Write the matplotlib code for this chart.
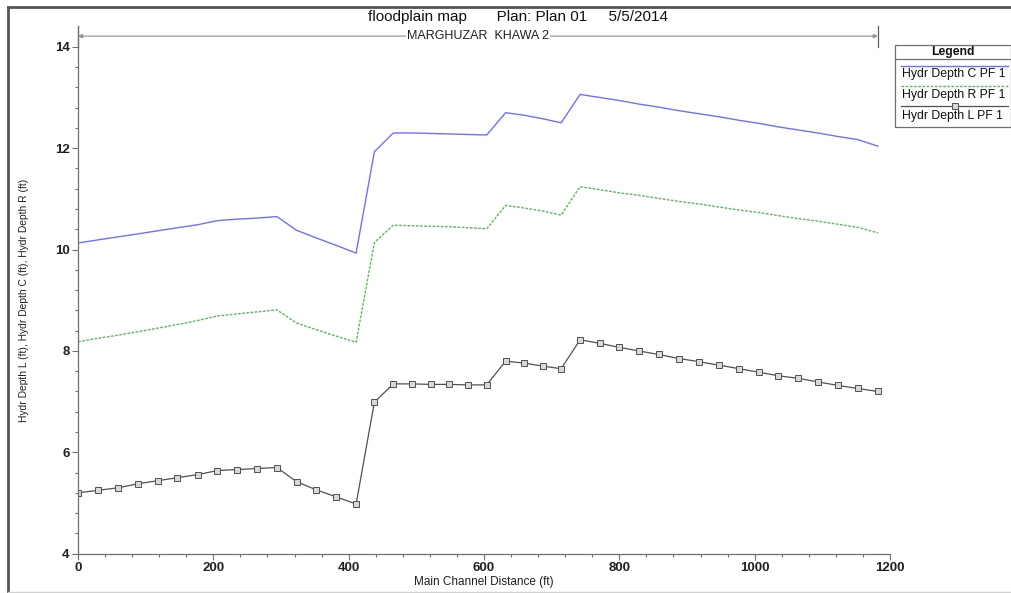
import matplotlib
matplotlib.use("Agg")
import matplotlib.pyplot as plt
from matplotlib.lines import Line2D
from matplotlib.patches import Rectangle

# ---- data ----
stations = [0, 29.5, 59, 89, 118, 147, 177, 206, 235, 264, 294, 323, 352, 382, 411,
            438, 466, 494, 521, 549, 577, 604, 632, 659, 687, 714, 742, 771, 800, 829,
            858, 888, 917, 947, 977, 1006, 1035, 1064, 1093, 1123, 1152, 1182]
depth_L = [5.20, 5.25, 5.30, 5.38, 5.44, 5.50, 5.56, 5.64, 5.66, 5.68, 5.70, 5.42, 5.26, 5.12, 4.98,
           6.99, 7.35, 7.35, 7.34, 7.34, 7.33, 7.33, 7.80, 7.76, 7.70, 7.65, 8.22, 8.15, 8.07, 8.00,
           7.93, 7.85, 7.79, 7.72, 7.65, 7.58, 7.51, 7.46, 7.39, 7.32, 7.26, 7.20]
depth_C = [10.13, 10.19, 10.25, 10.31, 10.37, 10.43, 10.49, 10.57, 10.60, 10.62, 10.65, 10.38, 10.23, 10.08, 9.93,
           11.93, 12.30, 12.30, 12.29, 12.28, 12.27, 12.26, 12.70, 12.65, 12.58, 12.50, 13.06, 13.00, 12.94, 12.87,
           12.81, 12.74, 12.68, 12.62, 12.55, 12.49, 12.42, 12.36, 12.30, 12.23, 12.17, 12.04]
depth_R = [8.18, 8.25, 8.31, 8.38, 8.45, 8.52, 8.60, 8.69, 8.73, 8.77, 8.81, 8.55, 8.42, 8.29, 8.17,
           10.14, 10.48, 10.47, 10.46, 10.45, 10.43, 10.41, 10.87, 10.82, 10.76, 10.68, 11.24, 11.18, 11.12, 11.07,
           11.01, 10.95, 10.90, 10.84, 10.78, 10.73, 10.67, 10.61, 10.56, 10.50, 10.44, 10.33]
series_labels = ["Hydr Depth C PF 1", "Hydr Depth R PF 1", "Hydr Depth L PF 1"]
reach_name = "MARGHUZAR  KHAWA 2"
reach_start, reach_end = 0, 1182

base = "Liberation Sans"
plt.rcParams['font.family'] = [base, 'DejaVu Sans']

W, H = 1012, 593
fig = plt.figure(figsize=(W / 100, H / 100), dpi=100)
ax = fig.add_axes([78 / W, 1 - 553.7 / H, (890 - 78) / W, (553.7 - 26) / H])

c_blue = "#6f6fff"
c_green = "#5fb85f"
c_black = "#505050"

ax.plot(stations, depth_C, color=c_blue, lw=1.0)
ax.plot(stations, depth_R, color=c_green, lw=1.0, dashes=(2, 1))
ax.plot(stations, depth_L, color=c_black, lw=0.9, marker='s', ms=4.2,
        mfc="#d8d8d8", mec="#505050", mew=0.7)

ax.set_xlim(0, 1200)
ax.set_ylim(4, 14.41)
ax.set_xticks([0, 200, 400, 600, 800, 1000, 1200])
ax.set_xticks(range(0, 1201, 40), minor=True)
ax.set_yticks([4, 6, 8, 10, 12, 14])
ax.set_yticks([4 + 0.4 * i for i in range(26)], minor=True)
for s in ['top', 'right']:
    ax.spines[s].set_visible(False)
for s in ['left', 'bottom']:
    ax.spines[s].set_color("#707070")
    ax.spines[s].set_linewidth(0.9)
ax.tick_params(which='major', length=4, width=0.8, color="#707070", labelsize=9.5, pad=2)
ax.tick_params(which='minor', length=2.5, width=0.8, color="#707070")
for lab in ax.get_xticklabels() + ax.get_yticklabels():
    lab.set_fontweight('bold')
    lab.set_color("#202020")
ax.set_xlabel("Main Channel Distance (ft)", fontsize=8.5, color="#202020")
ax.xaxis.set_label_coords(0.5, -0.043)
ax.set_ylabel("Hydr Depth L (ft), Hydr Depth C (ft), Hydr Depth R (ft)", fontsize=7.4,
              color="#202020")
ax.yaxis.set_label_coords(-0.060, 0.48)

# reach marker
ytop = 14.41
ax.plot([reach_start, reach_start], [14.0, ytop], color="#606060", lw=0.9, clip_on=False)
ax.plot([reach_end, reach_end], [14.0, ytop], color="#606060", lw=0.9, clip_on=False)
ax.annotate("", xy=(reach_start, 14.21), xytext=(reach_end, 14.21),
            arrowprops=dict(arrowstyle="<|-|>", color="#909090", lw=0.8,
                            shrinkA=0, shrinkB=0, mutation_scale=6), annotation_clip=False)
ax.text(591, 14.21, reach_name, ha='center', va='center', fontsize=9,
        color="#202020", bbox=dict(facecolor='white', edgecolor='none', pad=0.5), clip_on=False)

# title
fig.text(518 / W, 1 - 17 / H, "floodplain map       Plan: Plan 01     5/5/2014",
         ha='center', va='center', fontsize=11, color="#101010")

# frame border
fig.add_artist(Line2D([8 / W, 8 / W], [0, 1 - 7 / H], color="#555555", lw=2.0))
fig.add_artist(Line2D([8 / W, 1], [1 - 7 / H, 1 - 7 / H], color="#555555", lw=2.0))
fig.add_artist(Line2D([8 / W, 1], [1 - 591.5 / H, 1 - 591.5 / H], color="#d0d0d0", lw=1.0))

# legend (drawn in figure pixel coordinates)
def fx(px):
    return px / W

def fy(py):
    return 1 - py / H

lx0, lx1, ly0, ly1 = 895, 1011, 45, 127
fig.add_artist(Rectangle((fx(lx0), fy(ly1)), fx(lx1) - fx(lx0), fy(ly0) - fy(ly1),
                         transform=fig.transFigure, facecolor='white', edgecolor="#707070", lw=0.9))
fig.add_artist(Line2D([fx(lx0), fx(lx1)], [fy(59), fy(59)], color="#707070", lw=0.9))
fig.text(fx(953), fy(52), "Legend", ha='center', va='center', fontsize=8.8, fontweight='bold', color="#101010")
fig.add_artist(Line2D([fx(901), fx(1008)], [fy(65.5), fy(65.5)], color=c_blue, lw=1.0))
fig.text(fx(902), fy(74.5), series_labels[0], ha='left', va='center', fontsize=8.8, color="#101010")
fig.add_artist(Line2D([fx(901), fx(1008)], [fy(85.5), fy(85.5)], color=c_green, lw=1.0, dashes=(2, 1)))
fig.text(fx(902), fy(95), series_labels[1], ha='left', va='center', fontsize=8.8, color="#101010")
fig.add_artist(Line2D([fx(901), fx(1008)], [fy(106), fy(106)], color=c_black, lw=0.9))
fig.add_artist(Line2D([fx(955)], [fy(106)], marker='s', ms=4.2, mfc="#d8d8d8", mec="#505050", mew=0.7))
fig.text(fx(902), fy(115.5), series_labels[2], ha='left', va='center', fontsize=8.8, color="#101010")

fig.savefig("out.png", dpi=100)
